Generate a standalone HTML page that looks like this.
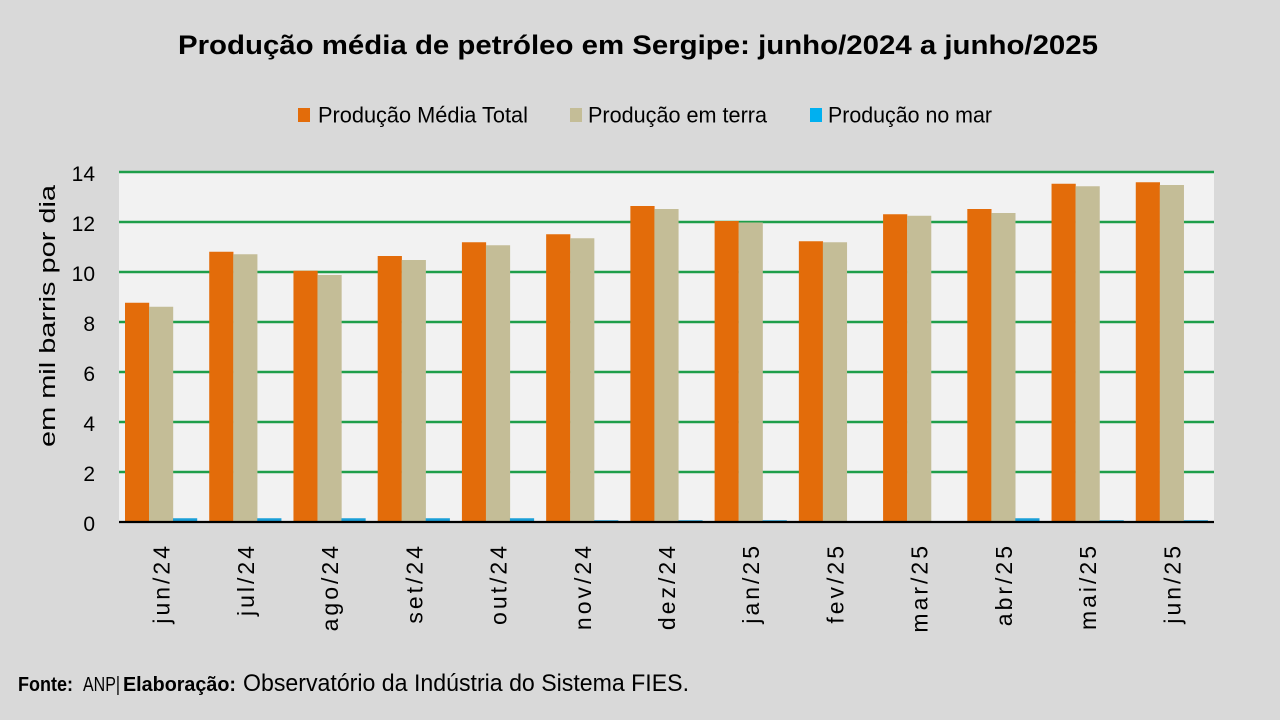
<!DOCTYPE html>
<html>
<head>
<meta charset="utf-8">
<style>
html,body{margin:0;padding:0;background:#d9d9d9;}
svg{display:block;}
text{font-family:"Liberation Sans",Arial,sans-serif;fill:#000;}
</style>
</head>
<body>
<svg width="1280" height="720" viewBox="0 0 1280 720" xmlns="http://www.w3.org/2000/svg">
<rect x="0" y="0" width="1280" height="720" fill="#d9d9d9"/>
<!-- Title -->
<text x="178" y="54" font-size="27" font-weight="bold" textLength="920" lengthAdjust="spacingAndGlyphs">Produção média de petróleo em Sergipe: junho/2024 a junho/2025</text>
<!-- Legend -->
<rect x="298" y="108" width="12" height="14" fill="#e36c0a"/>
<text x="318" y="122.5" font-size="22" textLength="210" lengthAdjust="spacingAndGlyphs">Produção Média Total</text>
<rect x="570" y="108" width="12" height="14" fill="#c4bd97"/>
<text x="588" y="122.5" font-size="22" textLength="179" lengthAdjust="spacingAndGlyphs">Produção em terra</text>
<rect x="810" y="108" width="12" height="14" fill="#00b0f0"/>
<text x="828" y="122.5" font-size="22" textLength="164" lengthAdjust="spacingAndGlyphs">Produção no mar</text>
<!-- Plot area -->
<rect x="119" y="172" width="1095" height="350" fill="#f2f2f2"/>
<!-- Gridlines -->
<g stroke="#1e9e4a" stroke-width="2.5">
<line x1="119" y1="172" x2="1214" y2="172"/>
<line x1="119" y1="222" x2="1214" y2="222"/>
<line x1="119" y1="272" x2="1214" y2="272"/>
<line x1="119" y1="322" x2="1214" y2="322"/>
<line x1="119" y1="372" x2="1214" y2="372"/>
<line x1="119" y1="422" x2="1214" y2="422"/>
<line x1="119" y1="472" x2="1214" y2="472"/>
</g>
<!-- Y tick labels -->
<g font-size="21" text-anchor="end">
<text x="95" y="181">14</text>
<text x="95" y="231">12</text>
<text x="95" y="281">10</text>
<text x="95" y="331">8</text>
<text x="95" y="381">6</text>
<text x="95" y="431">4</text>
<text x="95" y="481">2</text>
<text x="95" y="531">0</text>
</g>
<!-- Y axis title -->
<text transform="translate(55,316) rotate(-90)" font-size="22" text-anchor="middle" textLength="262" lengthAdjust="spacingAndGlyphs">em mil barris por dia</text>
<!-- Bars -->
<g id="bars"></g>
<!-- Axis line -->
<line x1="119" y1="522" x2="1214" y2="522" stroke="#000" stroke-width="2.2"/>
<!-- X labels -->
<g id="xl" font-size="23" text-anchor="end" letter-spacing="3"></g>
<!-- Footer -->
<text x="18" y="691" font-size="20" font-weight="bold" textLength="55" lengthAdjust="spacingAndGlyphs">Fonte:</text>
<text x="83" y="691" font-size="20" textLength="37" lengthAdjust="spacingAndGlyphs">ANP|</text>
<text x="123" y="691" font-size="20" font-weight="bold" textLength="113" lengthAdjust="spacingAndGlyphs">Elaboração:</text>
<text x="243" y="691" font-size="24" textLength="446" lengthAdjust="spacingAndGlyphs">Observatório da Indústria do Sistema FIES.</text>
<script>
(function(){
var ns="http://www.w3.org/2000/svg";
var labels=["jun/24","jul/24","ago/24","set/24","out/24","nov/24","dez/24","jan/25","fev/25","mar/25","abr/25","mai/25","jun/25"];
var o=[8.77,10.81,10.05,10.64,11.19,11.51,12.64,12.04,11.23,12.31,12.52,13.53,13.59];
var t=[8.61,10.71,9.88,10.48,11.07,11.35,12.52,11.98,11.19,12.25,12.36,13.43,13.48];
var b=[0.15,0.15,0.15,0.15,0.15,0.07,0.07,0.07,0.02,0.02,0.15,0.07,0.07];
var g=document.getElementById("bars"),xl=document.getElementById("xl");
var cw=(1214-119)/13;
function bar(x,v,c){var r=document.createElementNS(ns,"rect");var h=v*25;r.setAttribute("x",x.toFixed(2));r.setAttribute("y",(522-h).toFixed(2));r.setAttribute("width","24.2");r.setAttribute("height",h.toFixed(2));r.setAttribute("fill",c);g.appendChild(r);}
for(var i=0;i<13;i++){
var s=119+i*cw+6;
bar(s,o[i],"#e36c0a");
bar(s+24,t[i],"#c4bd97");
bar(s+48,b[i],"#1a9fd8");
var cx=119+(i+0.5)*cw;
var tx=document.createElementNS(ns,"text");
tx.setAttribute("transform","translate("+(cx+8.5).toFixed(2)+",543) rotate(-90)");
tx.textContent=labels[i];
xl.appendChild(tx);
}
})();
</script>
</svg>
</body>
</html>
